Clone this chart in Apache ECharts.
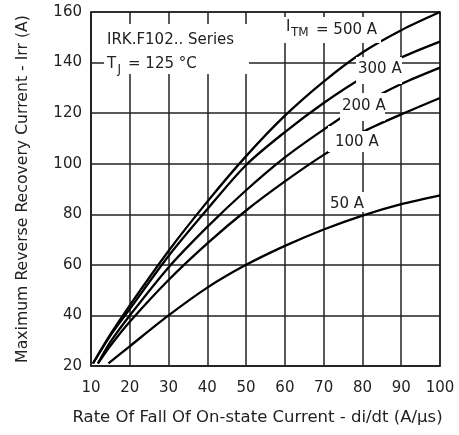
<!DOCTYPE html>
<html>
<head>
<meta charset="utf-8">
<script src="https://cdn.jsdelivr.net/npm/echarts@6/dist/echarts.min.js"></script>
<style>html,body{margin:0;padding:0;background:#fff}#c{width:459px;height:435px}</style>
</head>
<body>
<div id="c"></div>
<script>
// di/dt (A/us) and Irr (A) per I_TM curve
const x500 = [10.5, 15, 20, 30, 40, 50, 60, 70, 80, 90, 100];
const y500 = [21, 32.5, 44, 65.5, 85, 103, 119, 132.5, 144, 152.8, 160];
const x300 = [10.5, 15, 20, 30, 40, 50, 60, 70, 80, 90, 100];
const y300 = [21, 32, 42.5, 63.5, 82, 99.5, 112.5, 124, 134, 142, 148.3];
const x200 = [11.8, 15, 20, 30, 40, 50, 60, 70, 80, 90, 100];
const y200 = [21, 29.5, 40, 59, 75, 89.5, 102.5, 113.5, 123.5, 131.5, 138];
const x100 = [11.8, 15, 20, 30, 40, 50, 60, 70, 80, 90, 100];
const y100 = [21, 28, 37.5, 54, 68.5, 81.5, 93, 103.5, 112.5, 119.5, 126];
const x50 = [14.5, 20, 30, 40, 50, 60, 70, 80, 90, 100];
const y50 = [21, 27.8, 40, 51, 60, 67.5, 74, 79.5, 84, 87.5];
const xTicks = [10, 100, 10]; // min, max, interval
const yTicks = [20, 160, 20];

const FONT = 'DejaVu Sans';
const pairs = (xs, ys) => xs.map((x, i) => [x, ys[i]]);
const mk = (name, xs, ys) => ({
  name, type: 'line', data: pairs(xs, ys), smooth: 0.3, showSymbol: false,
  lineStyle: { color: '#000', width: 2.3 }, z: 3
});

function txt(text, x, y, size) {
  return { type: 'text', x, y, z: 120,
    style: { text, fill: '#222', fontSize: size || 15, fontFamily: FONT,
      align: 'left', verticalAlign: 'middle', textAlign: 'left', textVerticalAlign: 'middle' } };
}
function mask(x, y, w, h) {
  return { type: 'rect', z: 110, shape: { x, y, width: w, height: h }, style: { fill: '#fff' } };
}

const chart = echarts.init(document.getElementById('c'));
chart.setOption({
  animation: false,
  backgroundColor: '#fff',
  grid: { left: 91, right: 19, top: 12, bottom: 69, show: true, borderColor: '#222', borderWidth: 1.5 },
  xAxis: {
    type: 'value', min: xTicks[0], max: xTicks[1], interval: xTicks[2],
    name: 'Rate Of Fall Of On-state Current - di/dt (A/µs)',
    nameLocation: 'middle', nameGap: 43,
    nameTextStyle: { fontSize: 16.5, fontFamily: FONT, color: '#222', padding: [0, 16, 0, 0] },
    axisLine: { lineStyle: { color: '#222', width: 1.5 } },
    axisTick: { show: false },
    axisLabel: { fontSize: 15, fontFamily: FONT, color: '#222', margin: 15 },
    splitLine: { show: true, lineStyle: { color: '#222', width: 1.5 } }
  },
  yAxis: {
    type: 'value', min: yTicks[0], max: yTicks[1], interval: yTicks[2],
    name: 'Maximum Reverse Recovery Current - Irr (A)',
    nameLocation: 'middle', nameGap: 60,
    nameTextStyle: { fontSize: 15.7, fontFamily: FONT, color: '#222' },
    axisLine: { lineStyle: { color: '#222', width: 1.5 } },
    axisTick: { show: false },
    axisLabel: { fontSize: 15, fontFamily: FONT, color: '#222', margin: 9 },
    splitLine: { show: true, lineStyle: { color: '#222', width: 1.5 } }
  },
  series: [
    mk('500 A', x500, y500),
    mk('300 A', x300, y300),
    mk('200 A', x200, y200),
    mk('100 A', x100, y100),
    mk('50 A', x50, y50)
  ],
  graphic: [
    mask(104, 24, 145, 50),
    mask(283, 17, 98, 26),
    mask(356, 57, 46, 27),
    mask(340, 93, 45, 28),
    mask(333, 131, 45, 21),
    mask(328, 126, 34, 26),
    mask(328, 192, 38, 20),
    txt('IRK.F102.. Series', 107, 40),
    txt('T', 107, 64),
    txt('J', 117.5, 70, 12),
    txt('= 125 °C', 128, 64),
    txt('I', 286, 27),
    txt('TM', 291, 33, 12),
    txt('= 500 A', 316, 30),
    txt('300 A', 358, 69),
    txt('200 A', 342, 106),
    txt('100 A', 335, 142.5),
    txt('50 A', 330, 204)
  ]
});
</script>
</body>
</html>
